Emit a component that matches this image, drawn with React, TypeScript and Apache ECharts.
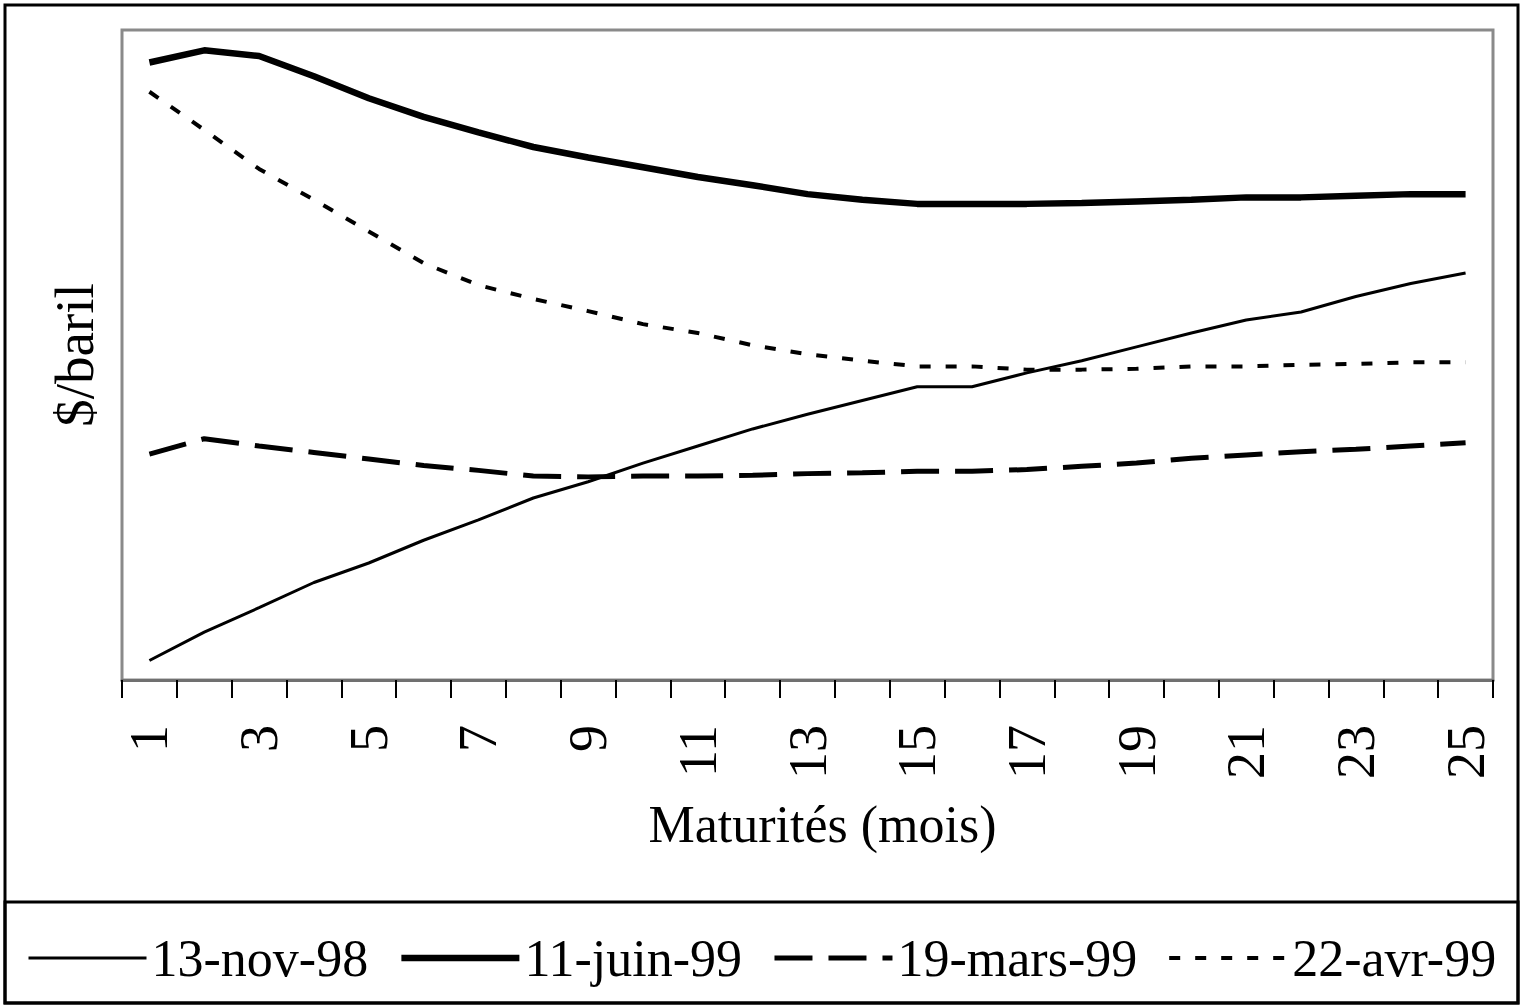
import React, { useEffect, useRef } from "react";
import * as echarts from "echarts";

const maturites = ["1", "2", "3", "4", "5", "6", "7", "8", "9", "10", "11", "12", "13", "14", "15", "16", "17", "18", "19", "20", "21", "22", "23", "24", "25"];

const nov98 = [10.24, 10.59, 10.89, 11.2, 11.44, 11.72, 11.97, 12.24, 12.44, 12.67, 12.88, 13.09, 13.27, 13.44, 13.61, 13.61, 13.78, 13.93, 14.1, 14.27, 14.43, 14.53, 14.72, 14.88, 15.01];
const juin99 = [17.6, 17.75, 17.68, 17.43, 17.16, 16.93, 16.74, 16.56, 16.43, 16.31, 16.19, 16.09, 15.98, 15.91, 15.86, 15.86, 15.86, 15.87, 15.89, 15.91, 15.94, 15.94, 15.96, 15.98, 15.98];
const mars99 = [12.78, 12.97, 12.88, 12.8, 12.72, 12.64, 12.58, 12.51, 12.5, 12.51, 12.51, 12.52, 12.54, 12.55, 12.57, 12.57, 12.59, 12.63, 12.67, 12.73, 12.77, 12.81, 12.84, 12.88, 12.92];
const avr99 = [17.24, 16.77, 16.29, 15.91, 15.52, 15.13, 14.86, 14.69, 14.54, 14.38, 14.27, 14.12, 14.01, 13.93, 13.86, 13.86, 13.82, 13.82, 13.83, 13.86, 13.86, 13.88, 13.89, 13.91, 13.91];

const seriesNames = ["13-nov-98", "11-juin-99", "19-mars-99", "22-avr-99"];
const yTitle = "$/baril";
const xTitle = "Maturités (mois)";

export default function App() {
  const ref = useRef<HTMLDivElement>(null);
  useEffect(() => {
    const chart = echarts.init(ref.current as HTMLDivElement, null, { renderer: "svg" });
    const font = "'Liberation Serif', 'Times New Roman', serif";
    const mk = (name: string, data: number[], width: number, type: any) => ({
      name,
      type: "line",
      data,
      symbol: "none",
      smooth: false,
      lineStyle: { color: "#000", width, type, cap: "butt" },
      itemStyle: { color: "#000" },
    });
    chart.setOption({
      animation: false,
      backgroundColor: "#fff",
      grid: {
        left: 122,
        top: 30,
        right: 30,
        bottom: 326,
        show: true,
        borderColor: "#8a8a8a",
        borderWidth: 3,
        containLabel: false,
      },
      xAxis: {
        type: "category",
        data: maturites,
        boundaryGap: true,
        name: xTitle,
        nameLocation: "middle",
        nameGap: 118,
        nameTextStyle: { fontFamily: font, fontSize: 52, color: "#000", padding: [0, 0, 0, 30] },
        axisLine: { show: true, lineStyle: { color: "#707070", width: 3 } },
        axisTick: { show: true, interval: 0, length: 18, lineStyle: { color: "#000", width: 2 } },
        axisLabel: {
          interval: 1,
          rotate: 90,
          margin: 45,
          fontFamily: font,
          fontSize: 54,
          color: "#000",
        },
        splitLine: { show: false },
      },
      yAxis: {
        type: "value",
        min: 10,
        max: 18,
        name: yTitle,
        nameLocation: "middle",
        nameRotate: 90,
        nameGap: 20,
        nameTextStyle: { fontFamily: font, fontSize: 55, color: "#000" },
        axisLine: { show: false },
        axisTick: { show: false },
        axisLabel: { show: false },
        splitLine: { show: false },
      },
      legend: {
        left: 27,
        top: 932,
        orient: "horizontal",
        itemWidth: 118,
        itemHeight: 14,
        itemGap: 30,
        padding: 0,
        textStyle: { fontFamily: font, fontSize: 52, color: "#000" },
        itemStyle: { opacity: 0, borderWidth: 0 },
        lineStyle: { width: "inherit", type: "inherit", opacity: 1 },
        data: seriesNames,
      },
      graphic: [
        {
          type: "rect",
          shape: { x: 5, y: 5, width: 1513, height: 998 },
          style: { fill: "none", stroke: "#000", lineWidth: 3 },
          silent: true,
        },
        {
          type: "rect",
          shape: { x: 5, y: 902, width: 1513, height: 101 },
          style: { fill: "none", stroke: "#000", lineWidth: 3 },
          silent: true,
        },
      ],
      series: [
        mk(seriesNames[0], nov98, 3, "solid"),
        mk(seriesNames[1], juin99, 6.5, "solid"),
        mk(seriesNames[2], mars99, 5, [38, 16]),
        mk(seriesNames[3], avr99, 4, [11, 15]),
      ],
    });
    return () => chart.dispose();
  }, []);
  return (
    <div
      ref={ref}
      style={{ position: "fixed", left: 0, top: 0, width: 1523, height: 1006, background: "#fff" }}
    />
  );
}
